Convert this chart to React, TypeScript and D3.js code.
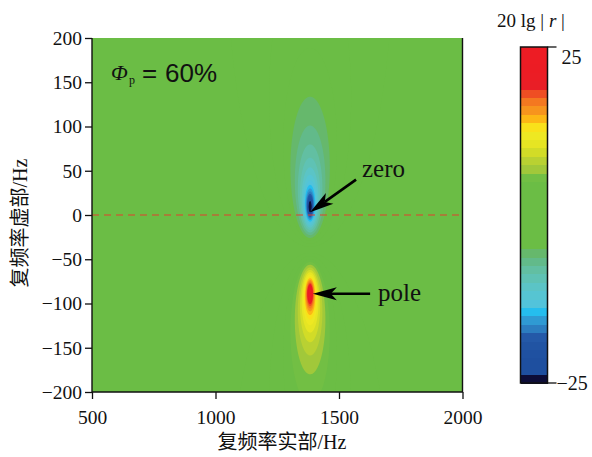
import * as d3 from 'd3'
import React, { useEffect, useRef } from 'react'

// Axis ticks
const xTicks = [500, 1000, 1500, 2000]
const yTicks = [200, 150, 100, 50, 0, -50, -100, -150, -200]

// Zero and pole of r, [real part, imaginary part] in Hz
const zeroPoint = [1383, 9]
const polePoint = [1383, -88]

// Colour of each 1.25 dB level of 20 lg|r|, from -25 (bottom) to 25 (top)
const levelColors = [
    '#0D0D38', '#1E4F9F', '#1E4F9F', '#1F51A1', '#2154A3', '#2459A8', '#2C7DC0', '#2F9AD3',
    '#25BDEE', '#52C3DB', '#56C5D2', '#5BC4C6', '#5FC2B4', '#62BFA2', '#62BA8A', '#66B86C',
    '#6BBD45', '#6BBD45', '#6BBD45', '#6BBD45', '#6BBD45', '#6BBD45', '#6BBD45', '#6BBD45',
    '#72BF44', '#A1C83A', '#B9D132', '#D2DC27', '#E6E523', '#EEE822', '#F9E11A', '#FDB715',
    '#F7941D', '#F47820', '#EF4E23', '#E91E26', '#EB1D25', '#EC1C24', '#ED1C24', '#ED1C24',
]
const levelMin = -25
const levelMax = 25
const barTicks = [25, -25]

// Annotations, in data units
const zeroNote = { text: 'zero', at: [1593, 43], tail: [1569, 40], tip: [1383, 3] }
const poleNote = { text: 'pole', at: [1658, -97], tail: [1626, -89], tip: [1394, -89] }

const serif = '"Liberation Serif", "Times New Roman", serif'
const sans = '"Liberation Sans", Arial, sans-serif'
const cjk = '"Liberation Serif", "Noto Sans CJK SC", serif'

const App = () => {
    const ref = useRef<SVGSVGElement>(null)
    const width = 592
    const height = 457
    const plot = { left: 92, top: 38, right: 462.5, bottom: 392 }
    const bar = { left: 520.5, right: 547.5, top: 47, bottom: 383 }

    useEffect(() => {
        drawChart()
        // eslint-disable-next-line react-hooks/exhaustive-deps
    }, [])

    function drawChart() {
        const svg = d3.select(ref.current)
        svg.selectAll('*').remove()

        const x = d3.scaleLinear().domain([500, 2000]).range([plot.left, plot.right])
        const y = d3.scaleLinear().domain([-200, 200]).range([plot.bottom, plot.top])

        const plotW = plot.right - plot.left
        const plotH = plot.bottom - plot.top

        // Sample 20 lg|r| on a grid over the plot
        const nx = 740
        const ny = 354
        const gx = plotW / nx
        const gy = plotH / ny
        const values = new Float64Array(nx * ny)
        for (let j = 0; j < ny; j++) {
            const im = y.invert(plot.top + (j + 0.5) * gy)
            for (let i = 0; i < nx; i++) {
                const re = x.invert(plot.left + (i + 0.5) * gx)
                const num = Math.hypot(re - zeroPoint[0], im - zeroPoint[1])
                const den = Math.hypot(re - polePoint[0], im - polePoint[1])
                const v = 20 * Math.log10(num / den)
                values[i + j * nx] = Math.max(levelMin, Math.min(levelMax, isNaN(v) ? 0 : v))
            }
        }

        const step = (levelMax - levelMin) / levelColors.length
        const thresholds = levelColors.map((_, i) => levelMin + i * step)

        const contours = d3.contours().size([nx, ny]).thresholds(thresholds)(Array.from(values))

        const proj = d3.geoTransform({
            point(px, py) {
                this.stream.point(plot.left + px * gx, plot.top + py * gy)
            },
        })
        const path = d3.geoPath(proj)

        svg.append('clipPath').attr('id', 'plot-clip')
            .append('rect')
            .attr('x', plot.left).attr('y', plot.top)
            .attr('width', plotW).attr('height', plotH)

        svg.append('g')
            .attr('clip-path', 'url(#plot-clip)')
            .selectAll('path')
            .data(contours)
            .enter()
            .append('path')
            .attr('d', d => path(d as any))
            .attr('fill', (d, i) => levelColors[i])

        // Dashed line on the real axis
        svg.append('line')
            .attr('x1', plot.left).attr('x2', plot.right)
            .attr('y1', y(0)).attr('y2', y(0))
            .attr('stroke', '#E2402E')
            .attr('stroke-width', 1.2)
            .attr('stroke-dasharray', '7,5')

        // Frame
        svg.append('path')
            .attr('d', `M${plot.left},${plot.top}V${plot.bottom}H${plot.right}V${plot.top}`)
            .attr('fill', 'none')
            .attr('stroke', '#111')
            .attr('stroke-width', 1.4)

        // Y axis
        const yAxis = svg.append('g')
            .attr('transform', `translate(${plot.left},0)`)
            .call(d3.axisLeft(y).tickValues(yTicks).tickSize(7).tickSizeOuter(0).tickPadding(3)
                .tickFormat(d3.format('d') as any))
        yAxis.select('.domain').remove()
        yAxis.attr('font-size', 19.5).attr('font-family', serif)
        yAxis.selectAll('line').attr('stroke', '#111').attr('stroke-width', 1.3)
        yAxis.selectAll('text').attr('fill', '#111')

        // X axis
        const xAxis = svg.append('g')
            .attr('transform', `translate(0,${plot.bottom})`)
            .call(d3.axisBottom(x).tickValues(xTicks).tickSize(7).tickSizeOuter(0).tickPadding(11)
                .tickFormat(d3.format('d') as any))
        xAxis.select('.domain').remove()
        xAxis.attr('font-size', 19.5).attr('font-family', serif)
        xAxis.selectAll('line').attr('stroke', '#111').attr('stroke-width', 1.3)
        xAxis.selectAll('text').attr('fill', '#111')

        // Axis titles
        svg.append('text')
            .attr('x', 282).attr('y', 449)
            .attr('text-anchor', 'middle')
            .attr('font-family', cjk).attr('font-size', 20).attr('fill', '#111')
            .text('复频率实部/Hz')

        svg.append('text')
            .attr('transform', 'translate(20,223) rotate(-90)')
            .attr('text-anchor', 'middle')
            .attr('dominant-baseline', 'central')
            .attr('font-family', cjk).attr('font-size', 20).attr('fill', '#111')
            .text('复频率虚部/Hz')

        // Phi label
        const phi = svg.append('g').attr('fill', '#111')
        phi.append('text').attr('x', 111).attr('y', 80)
            .attr('font-family', serif).attr('font-style', 'italic').attr('font-size', 22)
            .text('Φ')
        phi.append('text').attr('x', 129).attr('y', 84)
            .attr('font-family', serif).attr('font-size', 12)
            .text('p')
        phi.append('text').attr('x', 142).attr('y', 82)
            .attr('font-family', sans).attr('font-size', 26)
            .text('=')
        phi.append('text').attr('x', 165).attr('y', 82)
            .attr('font-family', sans).attr('font-size', 26)
            .text('60%')

        // Arrows with labels
        const drawNote = (note: typeof zeroNote) => {
            const tx = x(note.tip[0]), ty = y(note.tip[1])
            const sx = x(note.tail[0]), sy = y(note.tail[1])
            const len = Math.hypot(tx - sx, ty - sy)
            const ux = (tx - sx) / len, uy = (ty - sy) / len
            const nxv = -uy, nyv = ux
            const L = 24, W = 6.5, notch = 6
            const bx = tx - ux * L, by = ty - uy * L
            svg.append('line')
                .attr('x1', sx).attr('y1', sy)
                .attr('x2', bx + ux * notch).attr('y2', by + uy * notch)
                .attr('stroke', '#000').attr('stroke-width', 2.6)
            svg.append('path')
                .attr('d', `M${tx},${ty}L${bx + nxv * W},${by + nyv * W}L${bx + ux * notch},${by + uy * notch}L${bx - nxv * W},${by - nyv * W}Z`)
                .attr('fill', '#000')
            svg.append('text')
                .attr('x', x(note.at[0])).attr('y', y(note.at[1]))
                .attr('font-family', serif).attr('font-size', 25).attr('fill', '#111')
                .text(note.text)
        }
        drawNote(zeroNote)
        drawNote(poleNote)

        // Colour bar
        const c = d3.scaleLinear().domain([levelMin, levelMax]).range([bar.bottom, bar.top])
        svg.append('g')
            .attr('shape-rendering', 'crispEdges')
            .selectAll('rect')
            .data(thresholds)
            .enter()
            .append('rect')
            .attr('x', bar.left)
            .attr('width', bar.right - bar.left)
            .attr('y', d => c(d + step))
            .attr('height', d => c(d) - c(d + step) + 0.5)
            .attr('fill', (d, i) => levelColors[i])
        svg.append('rect')
            .attr('x', bar.left).attr('y', bar.top)
            .attr('width', bar.right - bar.left).attr('height', bar.bottom - bar.top)
            .attr('fill', 'none').attr('stroke', '#111').attr('stroke-width', 1.5)

        barTicks.forEach(t => {
            svg.append('line')
                .attr('x1', bar.right).attr('x2', bar.right + 9)
                .attr('y1', c(t)).attr('y2', c(t))
                .attr('stroke', '#111').attr('stroke-width', 1.3)
        })
        svg.append('text')
            .attr('x', bar.right + 14).attr('y', c(barTicks[0]) + 17)
            .attr('font-family', serif).attr('font-size', 20).attr('fill', '#111')
            .text(d3.format('d')(barTicks[0]))
        svg.append('text')
            .attr('x', bar.right + 9).attr('y', c(barTicks[1]) + 7)
            .attr('font-family', serif).attr('font-size', 20).attr('fill', '#111')
            .text(d3.format('d')(barTicks[1]))

        // Colour bar title
        const title = svg.append('text')
            .attr('x', 531).attr('y', 27)
            .attr('text-anchor', 'middle')
            .attr('font-family', serif).attr('font-size', 19).attr('fill', '#111')
        title.append('tspan').text('20 lg | ')
        title.append('tspan').attr('font-style', 'italic').text('r')
        title.append('tspan').text(' |')
    }

    return (
        <svg
            ref={ref}
            width={width}
            height={height}
            style={{ position: 'absolute', left: 0, top: 0, background: '#fff' }}
        />
    )
}

export default App
